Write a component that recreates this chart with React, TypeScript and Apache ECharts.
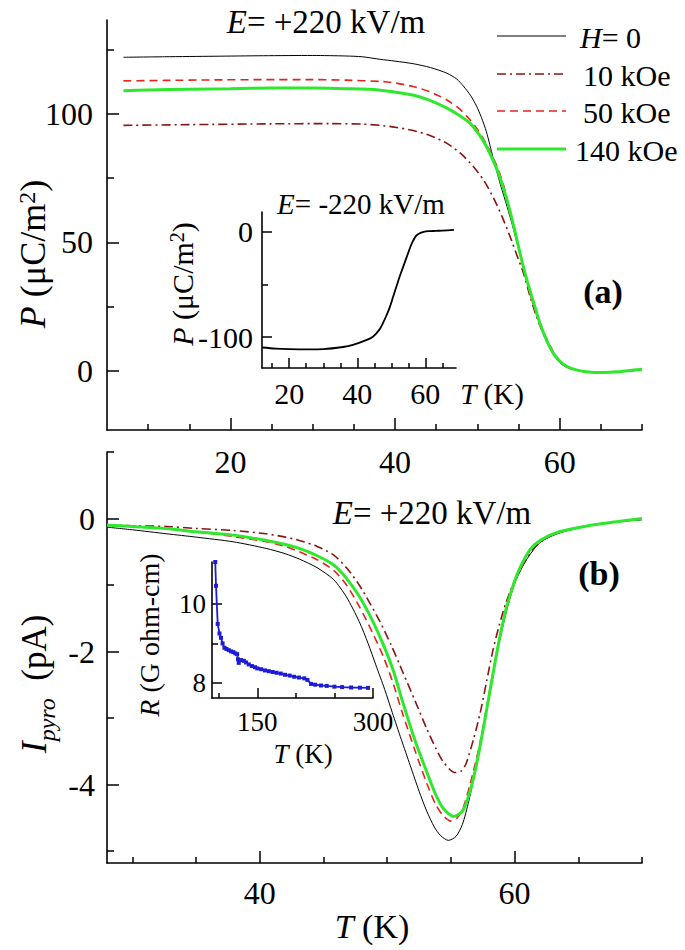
import React, { useEffect, useRef } from "react";
import * as echarts from "echarts";

const FONT = "Liberation Serif, DejaVu Serif, serif";

// ---------- Panel (a): P vs T, E = +220 kV/m ----------
const legendNames = ["H= 0", "10 kOe", "50 kOe", "140 kOe"];

const polH0: number[][] = [
  [7, 122], [12, 122.2], [18, 122.4], [24, 122.6], [30, 122.7], [34, 122.5], [36, 122.2],
  [38.2, 121.2], [40, 120.5], [42.2, 119.5], [44.3, 118], [46.3, 115.8], [47.5, 113.5],
  [48.3, 110.8], [49.2, 107], [49.9, 103], [50.5, 98.5], [51.1, 93], [51.9, 83], [52.8, 72.5],
  [53.6, 64], [54.4, 55], [55.2, 45], [56, 35], [56.8, 26], [57.6, 18], [58.4, 11.5],
  [59.2, 6.5], [60, 3.2], [60.9, 1.3], [62, 0.2], [63.5, -0.5], [65, -0.6], [67.3, -0.3], [70, 0.6],
];
const pol10: number[][] = [
  [7, 95.5], [15, 95.8], [25, 96.1], [32, 96.2], [36, 96], [38.2, 95.5], [40, 94.8],
  [42.2, 93.5], [44.3, 91.5], [46.3, 88.5], [48, 84.5], [49.5, 79.5], [50.8, 74], [52, 67],
  [53, 60], [54, 52], [54.8, 45], [55.6, 38], [56.4, 29], [57.2, 21], [58, 14.5], [58.8, 9],
  [59.6, 5], [60.5, 2.3], [61.5, 0.8], [63, -0.2], [65, -0.5], [67.5, -0.2], [70, 0.5],
];
const pol50: number[][] = [
  [7, 112.8], [12, 113], [18, 113.2], [24, 113.3], [30, 113.3], [34, 113.1], [38.2, 112.6],
  [40, 112], [42.2, 110.6], [44.3, 108.5], [46.3, 105.4], [47.8, 102], [49.1, 97.7], [50, 94],
  [50.8, 89.9], [51.6, 85], [52.4, 79.5], [53.2, 72], [54, 61], [54.8, 50.5], [55.6, 40],
  [56.4, 30], [57.2, 22], [58, 15.5], [58.8, 10], [59.6, 5.5], [60.5, 2.5], [61.5, 0.8],
  [63, -0.3], [65, -0.6], [67.3, -0.3], [70, 0.6],
];
const pol140: number[][] = [
  [7, 109], [10, 109.3], [15, 109.6], [20, 109.8], [25, 110], [30, 110], [34, 109.8],
  [38, 109.3], [42, 107.4], [44, 105.5], [46.3, 102.2], [48, 99], [49.1, 96.4], [50.2, 92],
  [51.1, 87.3], [52.4, 78.2], [53.6, 66.5], [54.4, 56.5], [55.2, 45.5], [56, 35.5], [56.8, 27],
  [57.6, 18.5], [58.4, 12], [59.2, 7], [60, 3.8], [60.9, 1.7], [62, 0.4], [63.5, -0.4],
  [65, -0.6], [67.3, -0.3], [70, 0.6],
];

// inset of (a): E = -220 kV/m
const polNeg: number[][] = [
  [12, -110], [16, -111], [20, -111.5], [26, -111.7], [30, -111.5], [35.8, -109.5],
  [38.7, -107.5], [42.6, -103], [44.6, -99.7], [46.5, -93], [47.5, -87], [48.5, -80],
  [49.5, -72], [50.5, -62], [51.5, -52], [52.5, -42], [53.5, -33], [54.5, -24], [55.5, -15],
  [56.3, -9], [57.2, -4], [58.2, -1.5], [59.5, 0], [61, 0.7], [63, 1], [65, 1.3], [68.4, 1.9],
];

// ---------- Panel (b): pyroelectric current ----------
const pyroH0: number[][] = [
  [28, -0.13], [30, -0.17], [32.7, -0.23], [35, -0.28], [37.9, -0.35], [40.5, -0.45],
  [42, -0.53], [43.1, -0.61], [44.5, -0.74], [45.8, -0.92], [46.8, -1.18], [47.8, -1.55],
  [48.5, -1.88], [49.1, -2.2], [49.8, -2.57], [50.4, -2.92], [51.1, -3.32], [51.8, -3.71],
  [52.5, -4.1], [53.1, -4.4], [53.7, -4.64], [54.2, -4.77], [54.8, -4.84], [55.4, -4.78],
  [55.9, -4.6], [56.4, -4.25], [57, -3.72], [57.5, -3.2], [58, -2.65], [58.5, -2.12],
  [59.1, -1.6], [59.6, -1.22], [60.1, -0.93], [60.9, -0.63], [62, -0.36], [63.5, -0.22],
  [66.1, -0.1], [68, -0.05], [70, -0.02],
];
const pyro10: number[][] = [
  [28, -0.1], [30, -0.11], [32.7, -0.12], [35, -0.15], [37.9, -0.18], [40.5, -0.23],
  [42, -0.28], [43.1, -0.33], [44.5, -0.42], [45.8, -0.55], [46.8, -0.74], [47.8, -1.0],
  [48.6, -1.26], [49.4, -1.54], [50.3, -1.9], [51.2, -2.3], [52.2, -2.75], [53.1, -3.16],
  [53.8, -3.45], [54.4, -3.66], [55.3, -3.82], [55.8, -3.8], [56.2, -3.68], [56.8, -3.3],
  [57.3, -2.92], [57.8, -2.45], [58.3, -1.98], [58.8, -1.6], [59.3, -1.28], [60, -0.93],
  [60.7, -0.68], [61.5, -0.45], [62.2, -0.33], [63.5, -0.2], [66, -0.1], [68, -0.05], [70, 0],
];
const pyro50: number[][] = [
  [28, -0.1], [30, -0.12], [32.7, -0.15], [35, -0.2], [37.9, -0.27], [40.5, -0.35],
  [42, -0.42], [43.1, -0.5], [44.5, -0.62], [45.8, -0.78], [46.8, -1.0], [47.8, -1.32],
  [48.8, -1.7], [49.7, -2.08], [50.5, -2.5], [51.2, -2.93], [52.2, -3.5], [53.1, -3.98],
  [53.8, -4.3], [54.4, -4.47], [55, -4.55], [55.5, -4.5], [56, -4.33], [56.5, -4.0],
  [57.2, -3.45], [57.7, -2.95], [58.2, -2.42], [58.7, -1.9], [59.2, -1.48], [59.8, -1.08],
  [60.3, -0.8], [61.2, -0.47], [62, -0.33], [63.5, -0.2], [66, -0.1], [68, -0.05], [70, 0],
];
const pyro140: number[][] = [
  [28, -0.1], [30, -0.12], [32.7, -0.15], [35, -0.2], [37.9, -0.25], [40.5, -0.33],
  [42, -0.39], [43.1, -0.45], [44.5, -0.56], [45.8, -0.7], [46.8, -0.9], [47.8, -1.17],
  [48.8, -1.52], [49.7, -1.9], [50.5, -2.3], [51.2, -2.75], [52.2, -3.35], [53.1, -3.81],
  [53.8, -4.15], [54.4, -4.36], [55.2, -4.48], [55.8, -4.42], [56.2, -4.28], [56.8, -3.88],
  [57.3, -3.41], [57.8, -2.88], [58.3, -2.34], [58.8, -1.82], [59.3, -1.38], [59.9, -1.0],
  [60.4, -0.75], [61.2, -0.47], [62, -0.33], [63.5, -0.2], [66, -0.1], [68, -0.05], [70, 0],
];

// inset of (b): resistivity
const resist: number[][] = [
  [95.5, 11.05], [96.5, 10.45], [98.7, 9.49], [101, 9.25], [103, 9.14], [105, 9.0],
  [107.4, 8.89], [110, 8.86], [113, 8.83], [116, 8.8], [119, 8.78], [121.5, 8.75],
  [123.9, 8.73], [125, 8.6], [126, 8.51], [129, 8.58], [132.6, 8.56], [135.5, 8.52],
  [139, 8.47], [143, 8.43], [147, 8.4], [150, 8.37], [155, 8.35], [160, 8.32], [165, 8.3],
  [170, 8.28], [175, 8.26], [180.4, 8.24], [186, 8.21], [192, 8.19], [197.8, 8.16],
  [204, 8.14], [210.9, 8.12], [215, 8.08], [219.6, 7.98], [225, 7.96], [232.6, 7.94],
  [240, 7.93], [250, 7.91], [260, 7.9], [271.7, 7.89], [283, 7.885], [293.5, 7.88],
];

// tick values
const topXMajor = [20, 40, 60];
const topXMinor = [10, 15, 25, 30, 35, 45, 50, 55, 65, 70];
const topYMajor = [0, 50, 100];
const topYMinor = [25, 75, 125];
const botXMajor = [40, 60];
const botXMinor = [30, 35, 45, 50, 55, 65, 70];
const botYMajor = [0, -2, -4];
const botYMinor = [1, -1, -3, -5];
const inAXMajor = [20, 40, 60];
const inAXMinor = [15, 25, 30, 35, 45, 50, 55, 65];
const inAYMajor = [0, -100];
const inAYMinor = [-50];
const inBXMajor = [150, 300];
const inBXMinor = [100, 200, 250];
const inBYMajor = [8, 10];
const inBYMinor = [9];

const COLORS = ["#000000", "#8a1414", "#e8221c", "#2de82d"];
const DASHES: any[] = ["solid", [9, 4, 2, 4], [8, 5], "solid"];
const WIDTHS = [1, 1.6, 1.6, 3];

function axisPair(
  dim: "x" | "y",
  gridIndex: number,
  min: number,
  max: number,
  major: number[],
  minor: number[],
  o: { fontSize: number; margin: number; majorLen: number; minorLen: number }
) {
  const position = dim === "x" ? "bottom" : "left";
  const base = { type: "value", gridIndex, min, max, position, splitLine: { show: false } };
  const a = {
    ...base,
    axisLine: { show: true, onZero: false, lineStyle: { color: "#000", width: 1.6 } },
    axisTick: {
      show: true, inside: true, length: o.majorLen, customValues: major,
      lineStyle: { color: "#000", width: 1.5 },
    },
    axisLabel: {
      show: true, customValues: major, margin: o.margin, fontSize: o.fontSize,
      fontFamily: FONT, color: "#000",
    },
  };
  const b = {
    ...base,
    axisLine: { show: false, onZero: false },
    axisTick: {
      show: true, inside: true, length: o.minorLen, customValues: minor,
      lineStyle: { color: "#000", width: 1.5 },
    },
    axisLabel: { show: false },
  };
  return [a, b];
}

function txt(x: number, y: number, text: string, size: number, extra: any = {}, rich: any = null, rot = 0) {
  const style: any = {
    text, x: 0, y: 0, fontFamily: FONT, fontSize: size, fill: "#000",
    align: "center", verticalAlign: "middle", ...extra,
  };
  if (rich) style.rich = rich;
  return { type: "text", x, y, rotation: rot, style, z: 10 };
}

export default function App() {
  const ref = useRef<HTMLDivElement>(null);
  useEffect(() => {
    document.body.style.margin = "0";
    if (!ref.current) return;
    const chart = echarts.init(ref.current, null, { renderer: "svg" });

    const xAxes = [
      ...axisPair("x", 0, 5, 70, topXMajor, topXMinor, { fontSize: 32, margin: 16, majorLen: 12, minorLen: 6 }),
      ...axisPair("x", 1, 28, 70, botXMajor, botXMinor, { fontSize: 32, margin: 14, majorLen: 12, minorLen: 6 }),
      ...axisPair("x", 2, 12, 69, inAXMajor, inAXMinor, { fontSize: 30, margin: 10, majorLen: 10, minorLen: 5 }),
      ...axisPair("x", 3, 91.3, 300, inBXMajor, inBXMinor, { fontSize: 27, margin: 10, majorLen: 10, minorLen: 5 }),
    ];
    const yAxes = [
      ...axisPair("y", 0, -23, 136.5, topYMajor, topYMinor, { fontSize: 32, margin: 14, majorLen: 12, minorLen: 7 }),
      ...axisPair("y", 1, -5.18, 1, botYMajor, botYMinor, { fontSize: 32, margin: 12, majorLen: 12, minorLen: 7 }),
      ...axisPair("y", 2, -129.5, 19, inAYMajor, inAYMinor, { fontSize: 30, margin: 9, majorLen: 10, minorLen: 6 }),
      ...axisPair("y", 3, 7.625, 11.05, inBYMajor, inBYMinor, { fontSize: 27, margin: 6, majorLen: 10, minorLen: 6 }),
    ];

    const line = (name: string, data: number[][], i: number, ax: number) => ({
      type: "line", name, data, xAxisIndex: ax, yAxisIndex: ax,
      showSymbol: false, symbol: "none", smooth: 0.25,
      lineStyle: { color: COLORS[i], width: WIDTHS[i], type: DASHES[i] },
      z: 2 + i,
    });

    const topSets = [polH0, pol10, pol50, pol140];
    const botSets = [pyroH0, pyro10, pyro50, pyro140];

    const series: any[] = [
      ...topSets.map((d, i) => line(legendNames[i], d, i, 0)),
      ...botSets.map((d, i) => line(legendNames[i], d, i, 2)),
      {
        type: "line", name: "E- inset", data: polNeg, xAxisIndex: 4, yAxisIndex: 4,
        showSymbol: false, symbol: "none", smooth: 0.3,
        lineStyle: { color: "#000", width: 1.8 },
      },
      {
        type: "line", name: "R", data: resist, xAxisIndex: 6, yAxisIndex: 6,
        symbol: "rect", symbolSize: 4, showSymbol: true,
        itemStyle: { color: "#1c1cd8" },
        lineStyle: { color: "#1c1cd8", width: 1.8 },
      },
    ];

    const it = (s: number) => ({ fontFamily: FONT, fontSize: s, fontStyle: "italic", fill: "#000" });
    const nr = (s: number) => ({ fontFamily: FONT, fontSize: s, fill: "#000" });

    const legendY = [36, 74, 111, 149];
    const legendGraphics: any[] = [];
    legendNames.forEach((n, i) => {
      legendGraphics.push({
        type: "line",
        shape: { x1: 497, y1: legendY[i], x2: 566, y2: legendY[i] },
        style: {
          stroke: COLORS[i], lineWidth: WIDTHS[i],
          lineDash: Array.isArray(DASHES[i]) ? DASHES[i] : null,
        },
        z: 10,
      });
      const label = i === 0 ? "{i|H}{n|= 0}" : `{n|${n}}`;
      legendGraphics.push(
        txt(i === 0 ? 580 : i === 3 ? 575 : 583, legendY[i] + 1, label, 30, { align: "left" }, { i: it(30), n: nr(30) })
      );
    });

    const option: any = {
      animation: false,
      backgroundColor: "#ffffff",
      textStyle: { fontFamily: FONT },
      grid: [
        { left: 107, top: 20, width: 535, height: 410 },
        { left: 107, top: 452, width: 535, height: 411 },
        { left: 262, top: 212, width: 194, height: 156 },
        { left: 212, top: 562, width: 161, height: 136 },
      ],
      xAxis: xAxes,
      yAxis: yAxes,
      series,
      graphic: [
        // panel (a)
        txt(326, 22, "{i|E}{n|= +220 kV/m}", 33, {}, { i: it(33), n: nr(33) }),
        txt(603, 291, "(a)", 34, { fontWeight: "bold" }),
        txt(33, 254, "{i|P}{n| (μC/m}{s|2}{n|)}", 36, {},
          { i: it(36), n: nr(36), s: { ...nr(24), verticalAlign: "top" } }, Math.PI / 2),
        // inset (a)
        txt(361, 204, "{i|E}{n|= -220 kV/m}", 29, {}, { i: it(29), n: nr(29) }),
        txt(182, 284, "{i|P}{n| (μC/m}{s|2}{n|)}", 30, {},
          { i: it(30), n: nr(30), s: { ...nr(20), verticalAlign: "top" } }, Math.PI / 2),
        txt(492, 394, "{i|T}{n| (K)}", 29, {}, { i: it(29), n: nr(29) }),
        // panel (b)
        txt(432, 513, "{i|E}{n|= +220 kV/m}", 33, {}, { i: it(33), n: nr(33) }),
        txt(599, 573, "(b)", 34, { fontWeight: "bold" }),
        txt(34, 684, "{I|I}{p|pyro}{n|  (pA)}", 35, {},
          { I: it(36), p: { ...it(24), verticalAlign: "bottom", lineHeight: 50 }, n: nr(35) }, Math.PI / 2),
        txt(372, 926, "{i|T}{n| (K)}", 34, {}, { i: it(34), n: nr(34) }),
        // inset (b)
        txt(149, 635, "{i|R}{n| (G ohm-cm)}", 28, {}, { i: it(28), n: nr(28) }, Math.PI / 2),
        txt(303, 754, "{i|T}{n| (K)}", 27, {}, { i: it(27), n: nr(27) }),
        ...legendGraphics,
      ],
    };
    chart.setOption(option);
    return () => chart.dispose();
  }, []);
  return <div ref={ref} style={{ width: 685, height: 950 }} />;
}
